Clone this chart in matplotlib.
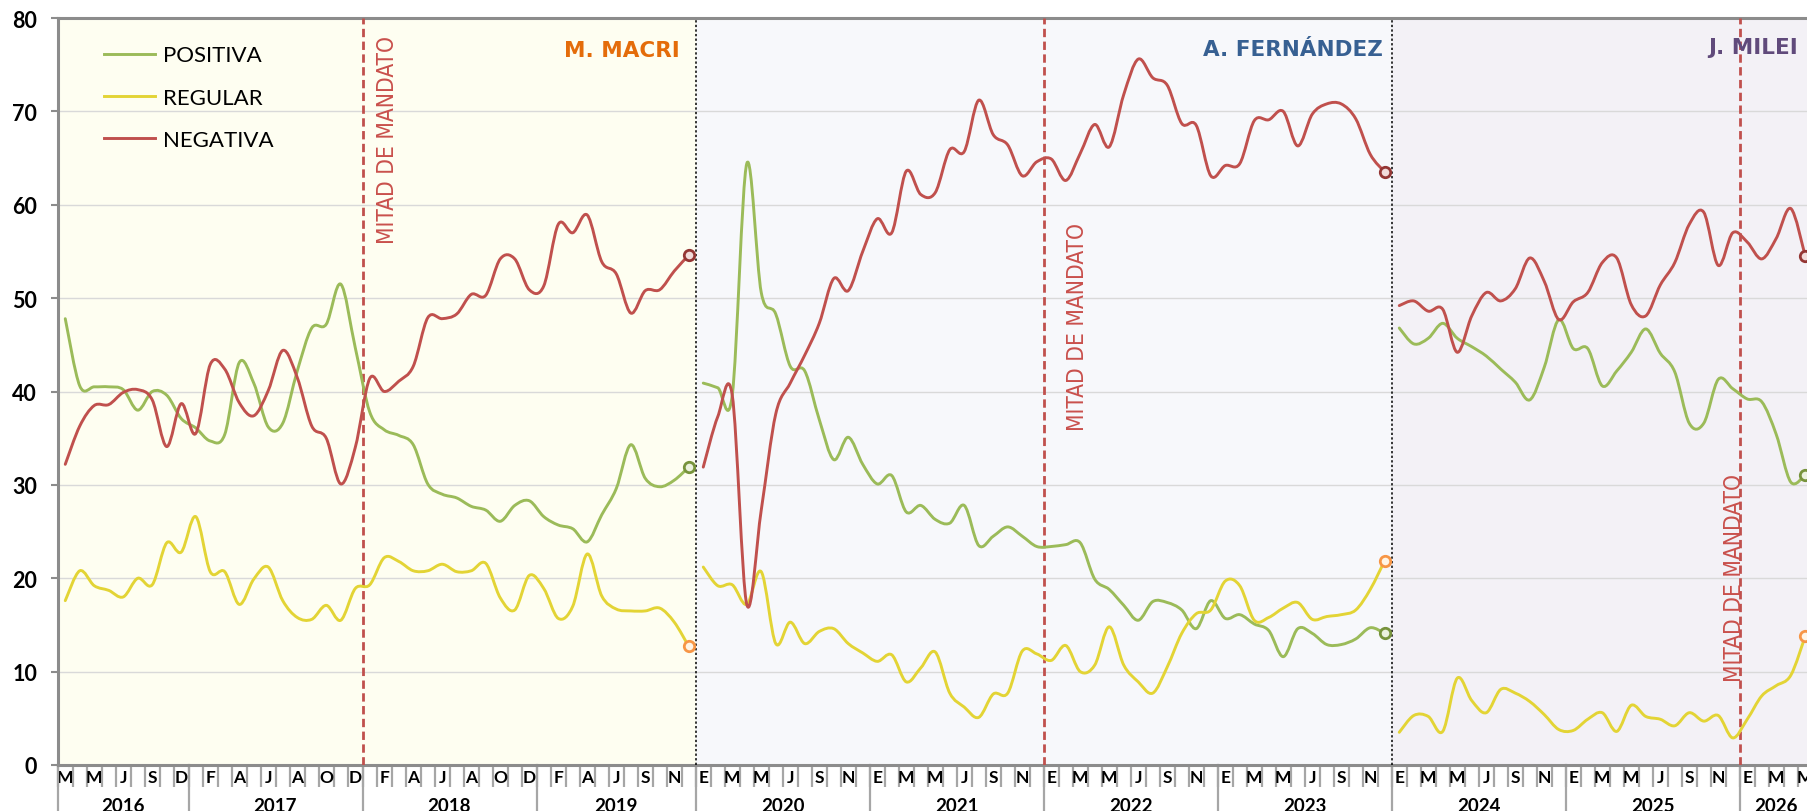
import matplotlib
matplotlib.use("Agg")
import matplotlib.pyplot as plt
from matplotlib.path import Path
from matplotlib.patches import PathPatch
from matplotlib.lines import Line2D

# month initials per category (one data point each)
months_2016 = ["M", "A", "M", "J", "J", "A", "S", "N", "D"]
months_full = ["E", "F", "M", "A", "M", "J", "J", "A", "S", "O", "N", "D"]
months_2019 = ["E", "F", "M", "A", "M", "J", "J", "S", "O", "N", "D"]
months_2026 = ["E", "F", "M", "A", "M"]
months = months_2016 + months_full * 2 + months_2019 + months_full * 6 + months_2026

year_names = ["2016", "2017", "2018", "2019", "2020", "2021", "2022", "2023", "2024", "2025", "2026"]
year_sizes = [9, 12, 12, 11, 12, 12, 12, 12, 12, 12, 5]

period_names = ["M. MACRI", "A. FERNÁNDEZ", "J. MILEI"]
period_sizes = [44, 48, 29]

positiva = [
    # Macri
    47.8, 40.6, 40.5, 40.5, 40.2, 38.0, 40.0, 39.6, 37.1,
    36.1, 34.7, 35.4, 43.1, 40.9, 36.2, 36.6, 42.2, 46.8, 47.2, 51.5, 44.7,
    37.8, 35.9, 35.3, 34.3, 30.1, 29.0, 28.6, 27.7, 27.3, 26.1, 27.8, 28.3,
    26.6, 25.7, 25.3, 23.9, 26.8, 29.6, 34.3, 30.7, 29.8, 30.5, 31.9,
    # Fernandez
    40.9, 40.4, 39.6, 64.4, 50.6, 48.3, 42.7, 42.2, 37.0, 32.7, 35.1, 32.2,
    30.1, 31.0, 27.1, 27.8, 26.3, 25.9, 27.8, 23.5, 24.5, 25.5, 24.5, 23.4,
    23.4, 23.6, 23.8, 19.9, 18.8, 17.1, 15.5, 17.5, 17.4, 16.6, 14.6, 17.6,
    15.7, 16.1, 15.1, 14.4, 11.6, 14.6, 14.1, 12.9, 12.9, 13.5, 14.7, 14.1,
    # Milei
    46.8, 45.1, 45.7, 47.3, 45.7, 44.8, 43.8, 42.4, 41.0, 39.1, 42.6, 47.7,
    44.6, 44.6, 40.6, 42.2, 44.2, 46.7, 44.1, 42.1, 36.6, 36.6, 41.3, 40.3,
    39.2, 38.9, 35.4, 30.3, 31.1,
]

regular = [
    17.6, 20.8, 19.2, 18.7, 18.0, 20.0, 19.3, 23.8, 22.8,
    26.6, 20.7, 20.7, 17.2, 19.9, 21.2, 17.6, 15.8, 15.6, 17.1, 15.5, 18.9,
    19.3, 22.2, 21.8, 20.8, 20.8, 21.5, 20.7, 20.8, 21.6, 17.9, 16.6, 20.3,
    18.9, 15.7, 17.0, 22.6, 18.1, 16.7, 16.5, 16.5, 16.8, 15.3, 12.7,
    21.2, 19.2, 19.3, 17.2, 20.7, 13.0, 15.3, 13.0, 14.3, 14.6, 13.0, 12.0,
    11.1, 11.8, 8.9, 10.4, 12.1, 7.7, 6.2, 5.1, 7.6, 7.7, 12.2, 11.9,
    11.2, 12.8, 10.0, 10.7, 14.8, 10.7, 8.9, 7.7, 10.5, 14.1, 16.2, 16.6,
    19.7, 19.2, 15.5, 15.8, 16.8, 17.4, 15.6, 15.9, 16.1, 16.6, 18.8, 21.9,
    3.5, 5.3, 5.2, 3.6, 9.3, 6.9, 5.6, 8.1, 7.7, 6.8, 5.4, 3.8,
    3.7, 4.9, 5.6, 3.6, 6.4, 5.2, 4.9, 4.2, 5.6, 4.7, 5.3, 2.9,
    4.9, 7.4, 8.5, 9.6, 13.8,
]

negativa = [
    32.2, 36.3, 38.5, 38.6, 39.9, 40.2, 39.1, 34.1, 38.7,
    35.5, 42.9, 42.4, 38.8, 37.4, 40.1, 44.4, 41.5, 36.3, 35.0, 30.1, 34.0,
    41.4, 40.0, 41.1, 42.7, 47.9, 47.8, 48.3, 50.4, 50.3, 54.2, 54.2, 50.9,
    51.3, 57.9, 57.0, 58.9, 53.9, 52.6, 48.4, 50.8, 50.9, 52.9, 54.6,
    31.9, 37.3, 39.6, 17.2, 27.3, 37.6, 40.9, 43.9, 47.3, 52.1, 50.8, 55.0,
    58.5, 57.0, 63.6, 61.1, 61.3, 65.9, 65.7, 71.2, 67.5, 66.4, 63.1, 64.6,
    64.9, 62.6, 65.5, 68.6, 66.2, 71.8, 75.6, 73.6, 72.8, 68.7, 68.5, 63.1,
    64.2, 64.4, 69.0, 69.1, 70.0, 66.3, 69.7, 70.8, 70.8, 69.2, 65.4, 63.5,
    49.2, 49.7, 48.6, 48.8, 44.2, 48.1, 50.6, 49.7, 51.0, 54.3, 51.8, 47.7,
    49.6, 50.6, 53.8, 54.3, 49.3, 48.1, 51.4, 53.8, 57.9, 59.2, 53.5, 57.0,
    56.0, 54.2, 56.4, 59.6, 54.5,
]

series = [
    ("POSITIVA", positiva, "#9BBB59", "#77933C", "#EBF1DE"),
    ("REGULAR", regular, "#E3D435", "#F79646", "#FFF5E6"),
    ("NEGATIVA", negativa, "#C0504D", "#943634", "#F2DCDB"),
]
period_bg = ["#FEFEF1", "#F7F8FB", "#F3F1F6"]
period_colors = ["#E46C0A", "#376092", "#604A7B"]


# smooth line like excel (bezier through the points)
def smooth_path(xs, ys):
    n = len(xs)
    verts = [(xs[0], ys[0])]
    codes = [Path.MOVETO]
    for k in range(n - 1):
        a = max(k - 1, 0)
        b = min(k + 2, n - 1)
        c1 = (xs[k] + (xs[k + 1] - xs[a]) / 6.0, ys[k] + (ys[k + 1] - ys[a]) / 6.0)
        c2 = (xs[k + 1] - (xs[b] - xs[k]) / 6.0, ys[k + 1] - (ys[b] - ys[k]) / 6.0)
        verts += [c1, c2, (xs[k + 1], ys[k + 1])]
        codes += [Path.CURVE4] * 3
    return Path(verts, codes)


plt.rcParams["font.family"] = ["Lato", "DejaVu Sans"]

fig = plt.figure(figsize=(18.08, 8.12), dpi=100)
ax = fig.add_axes([58 / 1808, 46 / 812, 1754.5 / 1808, 747 / 812])

n = len(months)
ax.set_xlim(-0.5, n - 0.5)
ax.set_ylim(0, 80)

# period backgrounds
start = 0
period_bounds = []
for i, size in enumerate(period_sizes):
    ax.axvspan(start - 0.5, start + size - 0.5, color=period_bg[i], zorder=0, lw=0)
    period_bounds.append((start, start + size))
    start += size

ax.yaxis.grid(True, color="#D9D9D9", lw=1.0, zorder=1)
ax.set_axisbelow(True)

# lines, broken at each presidency
for name, vals, col, edge, face in series:
    for a, b in period_bounds:
        xs = list(range(a, b))
        ys = vals[a:b]
        ax.add_patch(PathPatch(smooth_path(xs, ys), fill=False, edgecolor=col,
                               lw=2.1, capstyle="round", joinstyle="round", zorder=4))
        ax.plot([xs[-1]], [ys[-1]], "o", ms=7.5, mec=edge, mfc=face, mew=2.0, zorder=5)

# separators between presidencies
for a, b in period_bounds[:-1]:
    ax.axvline(b - 0.5, color="black", lw=1.1, ls=(0, (1.5, 1.5)), zorder=3)

# mitad de mandato
renderer = fig.canvas.get_renderer()
mid_x = [20.5, 67.5, 115.5]
mid_text = [(22.25, 78.2), (69.8, 58.2), (115.1, 31.3)]
for mx, (tx, ty) in zip(mid_x, mid_text):
    ax.axvline(mx, color="#C0504D", lw=2.0, ls=(0, (3, 1.6)), zorder=3)
    t = ax.text(tx, ty, "MITAD DE MANDATO", rotation=90, ha="center", va="top",
                fontsize=17, color="#C9504C", fontstretch="condensed",
                family=["DejaVu Sans"], zorder=6)
    # fit text length to about 208 px
    h = t.get_window_extent(renderer).height
    t.set_fontsize(17 * 208.0 / h)

# president names
name_pos = [(42.4, 76.6), (90.9, 76.7), (119.5, 76.9)]
for nm, (px, py), c in zip(period_names, name_pos, period_colors):
    ax.text(px, py, nm, ha="right", va="center", fontsize=15.5, fontweight="bold",
            color=c, family="DejaVu Sans", zorder=6)

# axes look
for s in ["left", "bottom", "top"]:
    ax.spines[s].set_color("#8C8C8C")
    ax.spines[s].set_linewidth(2.2)
ax.spines["right"].set_visible(False)

ax.set_yticks(range(0, 81, 10))
ax.tick_params(axis="y", length=5, width=1.5, color="#8C8C8C", pad=10,
               labelsize=15.5)
for lab in ax.get_yticklabels():
    lab.set_fontweight("bold")

# month ticks between categories, labels every other month
ax.set_xticks([i - 0.5 for i in range(n + 1)])
ax.set_xticklabels([])
ax.tick_params(axis="x", which="major", length=16, width=1.6, color="#A6A6A6")
ax.set_xticks(range(n), minor=True)
ax.set_xticklabels([m if i % 2 == 0 else "" for i, m in enumerate(months)], minor=True)
ax.tick_params(axis="x", which="minor", length=0, pad=3, labelsize=12.5)
for lab in ax.get_xticklabels(minor=True):
    lab.set_fontweight("bold")

# year row
trans = ax.get_xaxis_transform()
start = 0
for yname, size in zip(year_names, year_sizes):
    ax.plot([start - 0.5, start - 0.5], [0, -0.08], transform=trans, color="#A6A6A6",
            lw=1.6, clip_on=False)
    ax.text(start + (size - 1) / 2.0, -0.054, yname, transform=trans, ha="center",
            va="center", fontsize=13.5, fontweight="bold")
    start += size

# legend
handles = [Line2D([], [], color=c, lw=2.1) for _, _, c, _, _ in series]
ax.legend(handles, [s[0] for s in series], loc="upper left",
          bbox_to_anchor=(0.015, 0.99), frameon=False, fontsize=16,
          handlelength=2.3, handletextpad=0.35, labelspacing=1.0)

fig.savefig("out.png", dpi=100)
